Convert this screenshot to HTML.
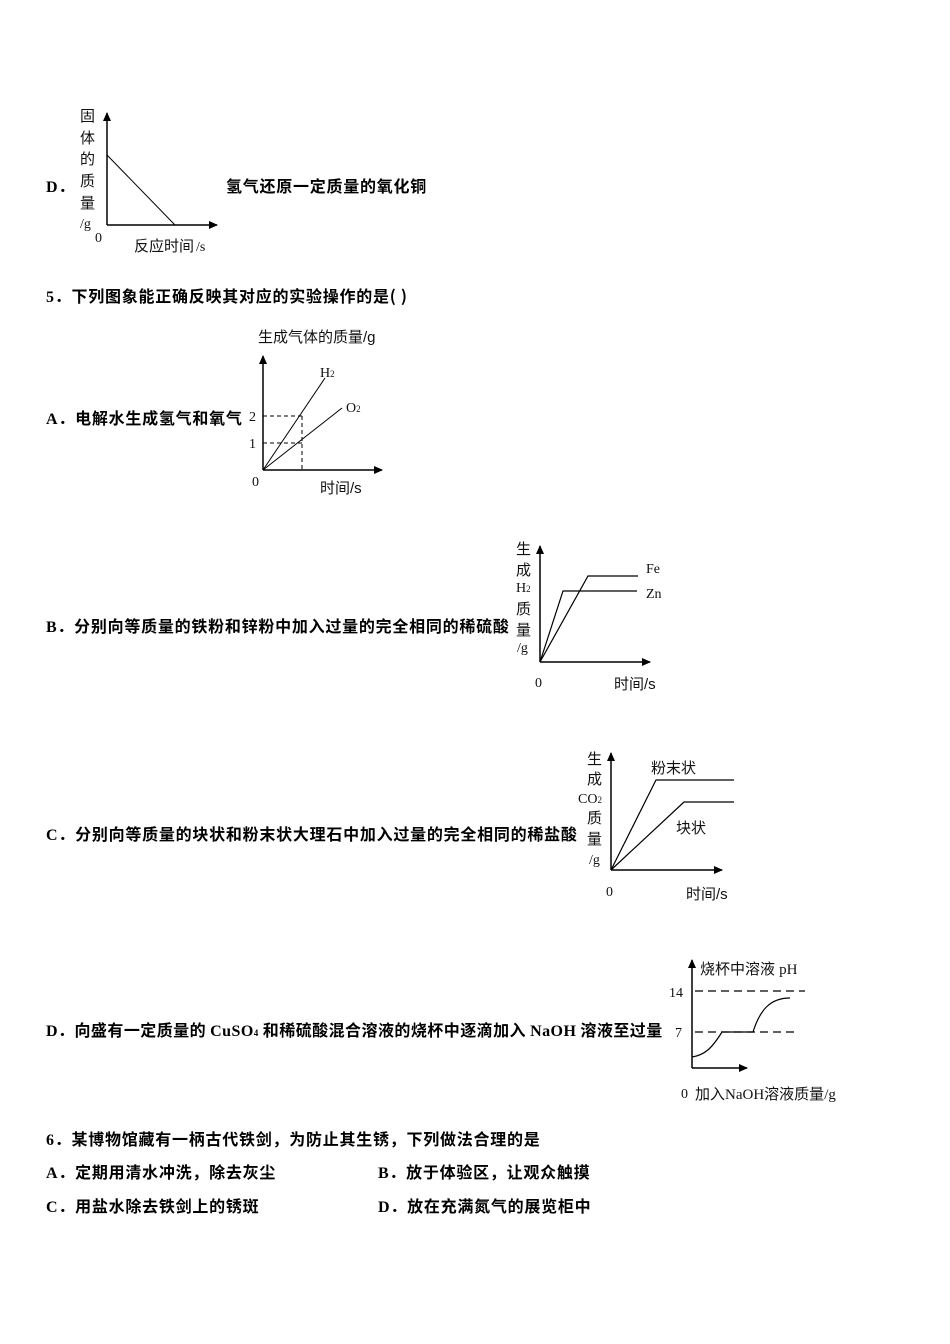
<!DOCTYPE html>
<html><head><meta charset="utf-8"><style>
html,body{margin:0;padding:0;background:#fff}
svg{display:block}
.b{font-family:"Noto Sans CJK SC",sans-serif;font-weight:bold;font-size:16px;letter-spacing:0.75px;fill:#000}
.s{font-family:"Liberation Sans","Noto Sans CJK SC",sans-serif;font-size:15px;fill:#111}
.r{font-family:"Liberation Serif","Noto Serif CJK SC",serif;font-size:14px;fill:#111}
.l{font-family:"Liberation Serif",serif;font-weight:bold}
</style></head><body>
<svg width="950" height="1344" viewBox="0 0 950 1344" xmlns="http://www.w3.org/2000/svg">
<defs><marker id="a" markerWidth="10" markerHeight="10" refX="8" refY="4" orient="auto" markerUnits="userSpaceOnUse"><path d="M0,0 L9,4 L0,8 z" fill="#000"/></marker></defs>
<g stroke="#000" stroke-width="1.5" fill="none">
<line x1="107" y1="225" x2="107" y2="113" marker-end="url(#a)"/>
<line x1="107" y1="225" x2="217" y2="225" marker-end="url(#a)"/>
<line x1="107" y1="155" x2="175" y2="225" stroke-width="1"/>
<line x1="263" y1="470" x2="263" y2="356" marker-end="url(#a)"/>
<line x1="263" y1="470" x2="382" y2="470" marker-end="url(#a)"/>
<line x1="263" y1="470" x2="325" y2="378" stroke-width="1"/>
<line x1="263" y1="470" x2="342" y2="408" stroke-width="1"/>
<g stroke-width="1" stroke-dasharray="4,3"><line x1="263" y1="416" x2="302" y2="416"/><line x1="263" y1="443" x2="302" y2="443"/><line x1="302" y1="416" x2="302" y2="470"/></g>
<line x1="540" y1="662" x2="540" y2="546" marker-end="url(#a)"/>
<line x1="540" y1="662" x2="650" y2="662" marker-end="url(#a)"/>
<polyline points="540,662 588,576 638,576" stroke-width="1.2"/>
<polyline points="540,662 563,591 637,591" stroke-width="1.2"/>
<line x1="611" y1="870" x2="611" y2="753" marker-end="url(#a)"/>
<line x1="611" y1="870" x2="722" y2="870" marker-end="url(#a)"/>
<polyline points="611,870 656,780 734,780" stroke-width="1.2"/>
<polyline points="611,870 684,802 734,802" stroke-width="1.2"/>
<line x1="692" y1="1068" x2="692" y2="960" marker-end="url(#a)"/>
<line x1="692" y1="1068" x2="747" y2="1068" marker-end="url(#a)"/>
<g stroke-width="1.2" stroke-dasharray="8,5"><line x1="695" y1="991" x2="805" y2="991"/><line x1="695" y1="1032" x2="797" y2="1032"/></g>
<path d="M692,1057 C705,1055 712,1048 722,1032 L753,1032 C760,1010 770,998 790,998" stroke-width="1.2"/>
</g>
<g class="s"><text x="80" y="121">固</text><text x="80" y="143">体</text><text x="80" y="164">的</text><text x="80" y="186">质</text><text x="80" y="208">量</text></g>
<text class="r" x="80" y="228">/g</text><text class="r" x="95" y="242">0</text>
<text class="s" x="134" y="251">反应时间</text><text class="r" x="196" y="251">/s</text>
<text class="b" x="46" y="192"><tspan class="l">D</tspan>．</text>
<text class="b" x="226" y="192">氢气还原一定质量的氧化铜</text>
<text class="b" x="46" y="302"><tspan class="l">5</tspan>．下列图象能正确反映其对应的实验操作的是( )</text>
<text class="s" x="258" y="342">生成气体的质量/g</text>
<text class="r" x="320" y="377">H<tspan font-size="9">2</tspan></text>
<text class="r" x="346" y="412">O<tspan font-size="9">2</tspan></text>
<text class="r" x="249" y="421">2</text><text class="r" x="249" y="448">1</text><text class="r" x="252" y="486">0</text>
<text class="s" x="320" y="493">时间/s</text>
<text class="b" x="46" y="424"><tspan class="l">A</tspan>．电解水生成氢气和氧气</text>
<g class="s"><text x="516" y="554">生</text><text x="516" y="575">成</text><text x="516" y="614">质</text><text x="516" y="635">量</text></g>
<text class="r" x="516" y="592">H<tspan font-size="9">2</tspan></text>
<text class="r" x="517" y="652">/g</text>
<text class="r" x="646" y="573">Fe</text><text class="r" x="646" y="598">Zn</text>
<text class="r" x="535" y="687">0</text><text class="s" x="614" y="689">时间/s</text>
<text class="b" x="46" y="632"><tspan class="l">B</tspan>．分别向等质量的铁粉和锌粉中加入过量的完全相同的稀硫酸</text>
<g class="s"><text x="587" y="764">生</text><text x="587" y="784">成</text><text x="587" y="823">质</text><text x="587" y="844">量</text></g>
<text class="r" x="578" y="803">CO<tspan font-size="9">2</tspan></text>
<text class="r" x="589" y="864">/g</text>
<text class="s" x="651" y="773">粉末状</text><text class="s" x="676" y="833">块状</text>
<text class="r" x="606" y="896">0</text><text class="s" x="686" y="899">时间/s</text>
<text class="b" x="46" y="840"><tspan class="l">C</tspan>．分别向等质量的块状和粉末状大理石中加入过量的完全相同的稀盐酸</text>
<text class="s" x="700" y="974">烧杯中溶液 <tspan font-family="Liberation Serif">pH</tspan></text>
<text class="r" x="669" y="997">14</text><text class="r" x="675" y="1037">7</text>
<text class="r" x="681" y="1098" font-size="12">0</text><text class="s" x="695" y="1099">加入<tspan font-family="Liberation Serif">NaOH</tspan>溶液质量<tspan font-family="Liberation Serif">/g</tspan></text>
<text class="b" x="46" y="1036" style="letter-spacing:0.45px"><tspan class="l">D</tspan>．向盛有一定质量的 <tspan class="l">CuSO</tspan><tspan class="l" font-size="9">4</tspan> 和稀硫酸混合溶液的烧杯中逐滴加入 <tspan class="l">NaOH</tspan> 溶液至过量</text>
<text class="b" x="46" y="1145"><tspan class="l">6</tspan>．某博物馆藏有一柄古代铁剑，为防止其生锈，下列做法合理的是</text>
<text class="b" x="46" y="1178"><tspan class="l">A</tspan>．定期用清水冲洗，除去灰尘</text>
<text class="b" x="378" y="1178"><tspan class="l">B</tspan>．放于体验区，让观众触摸</text>
<text class="b" x="46" y="1212"><tspan class="l">C</tspan>．用盐水除去铁剑上的锈斑</text>
<text class="b" x="378" y="1212"><tspan class="l">D</tspan>．放在充满氮气的展览柜中</text>
</svg>
</body></html>
